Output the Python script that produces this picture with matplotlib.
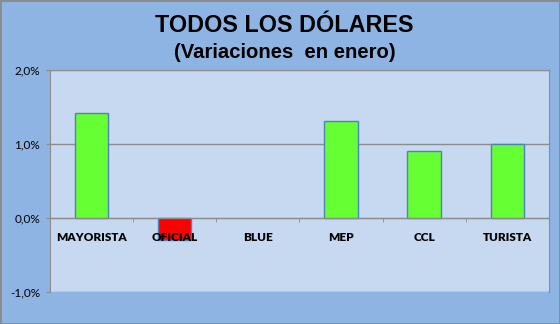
import numpy as np
import matplotlib.pyplot as plt
from matplotlib.ticker import FuncFormatter

# datos
categorias = ["MAYORISTA", "OFICIAL", "BLUE", "MEP", "CCL", "TURISTA"]
variaciones = [1.41, -0.30, 0.0, 1.31, 0.90, 1.00]
colores = ["#66FF33" if v >= 0 else "#FF0000" for v in variaciones]
bordes = ["#4F81BD" if v != 0 else "none" for v in variaciones]

fig = plt.figure(figsize=(5.6, 3.24), dpi=100)
fig.patch.set_facecolor("#8EB4E3")
fig.patch.set_edgecolor("#8C8C8C")
fig.patch.set_linewidth(2)

ax = fig.add_axes([0.0893, 0.0988, 0.8907, 0.6862])
ax.set_facecolor("#C6D9F1")

x = np.arange(len(categorias))
ax.bar(x, variaciones, width=0.4, color=colores, edgecolor=bordes, linewidth=1, zorder=3)

ax.set_xlim(-0.5, len(categorias) - 0.5)
ax.set_ylim(-1, 2)
ax.set_yticks([-1, 0, 1, 2])
ax.yaxis.set_major_formatter(FuncFormatter(lambda v, p: f"{v:.1f}%".replace(".", ",")))
ax.grid(axis="y", color="#8C8C8C", linewidth=1, zorder=1)
ax.tick_params(axis="y", length=3, color="#8C8C8C", pad=4, labelsize=8.5)
for lbl in ax.get_yticklabels():
    lbl.set_fontfamily("Lato")

for s in ["left", "right", "top"]:
    ax.spines[s].set_color("#8C8C8C")
ax.spines["bottom"].set_position(("data", 0))
ax.spines["bottom"].set_color("#8C8C8C")
ax.spines["bottom"].set_zorder(4)

ax.set_xticks(x)
ax.set_xticklabels(categorias, fontfamily="Lato", fontweight="heavy", fontsize=8.5)
ax.tick_params(axis="x", which="major", length=0, pad=10)
ax.set_xticks(np.arange(0.5, len(categorias) - 0.5), minor=True)
ax.tick_params(axis="x", which="minor", length=3, color="#8C8C8C")
ax.xaxis.set_zorder(5)  # etiquetas por encima de las barras

fig.text(0.508, 0.92, "TODOS LOS DÓLARES", ha="center", va="center",
         fontfamily="Liberation Sans", fontweight="bold", fontsize=16.8)
fig.text(0.508, 0.839, "(Variaciones  en enero)", ha="center", va="center",
         fontfamily="Liberation Sans", fontweight="bold", fontsize=14.6)

fig.savefig("out.png", dpi=100, facecolor=fig.get_facecolor(), edgecolor=fig.get_edgecolor())
